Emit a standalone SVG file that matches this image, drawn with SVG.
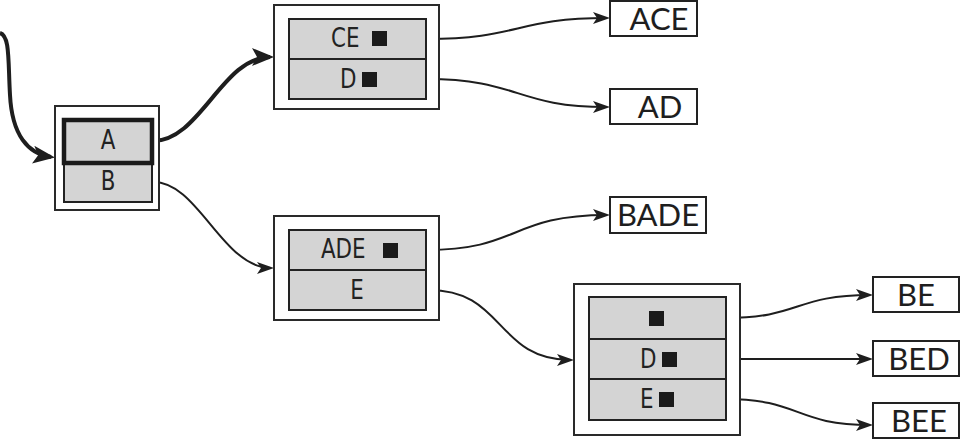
<svg xmlns="http://www.w3.org/2000/svg" width="961" height="439" viewBox="0 0 961 439">
  <style>
    .outer { fill: #ffffff; stroke: #2a2a2a; stroke-width: 2; }
    .cell { fill: #d4d4d4; stroke: #222222; stroke-width: 2; }
    .cell-bold { fill: #d4d4d4; stroke: #1a1a1a; stroke-width: 4.5; }
    .leaf { fill: #ffffff; stroke: #222222; stroke-width: 2; }
    .ct { font-family: "DejaVu Sans", sans-serif; font-stretch: condensed; font-size: 27px; fill: #222222; }
    .lt { font-family: "Lato", "DejaVu Sans", sans-serif; font-weight: 400; font-size: 31px; fill: #1e1e1e; text-anchor: middle; }
    .mark { fill: #1a1a1a; }
    .edge { fill: none; stroke: #1e1e1e; stroke-width: 2; }
    .edge-bold { fill: none; stroke: #1e1e1e; stroke-width: 4; }
  </style>
  <defs>
    <marker id="arrow" markerUnits="userSpaceOnUse" viewBox="0 -6 17 12" markerWidth="17" markerHeight="12" refX="14" refY="0" orient="auto">
      <path d="M0,-6 L17,0 L0,6 L4,0 z" fill="#1e1e1e"/>
    </marker>
    <marker id="arrow-bold" markerUnits="userSpaceOnUse" viewBox="0 -9 22 18" markerWidth="22" markerHeight="18" refX="18" refY="0" orient="auto">
      <path d="M0,-9 L22,0 L0,9 L5,0 z" fill="#1e1e1e"/>
    </marker>
  </defs>

  <!-- connectors -->
  <g id="connectors">
    <path class="edge-bold" d="M0,33 C10,36 8,60 10,95 C12,135 28,154 51,157" marker-end="url(#arrow-bold)"/>
    <path class="edge-bold" d="M152,141 C200,142 222,57 270,57" marker-end="url(#arrow-bold)"/>
    <path class="edge" d="M152,182 C198,180 222,268 271,268" marker-end="url(#arrow)"/>
    <path class="edge" d="M426,39 C520,39 515,18 607,18" marker-end="url(#arrow)"/>
    <path class="edge" d="M426,79 C520,79 515,107 607,107" marker-end="url(#arrow)"/>
    <path class="edge" d="M426,250 C520,250 510,215 607,215" marker-end="url(#arrow)"/>
    <path class="edge" d="M426,290 C505,288 495,360 571,360" marker-end="url(#arrow)"/>
    <path class="edge" d="M726,318 C800,318 795,295 870,295" marker-end="url(#arrow)"/>
    <path class="edge" d="M726,359 L870,359" marker-end="url(#arrow)"/>
    <path class="edge" d="M726,399 C800,399 795,425 870,425" marker-end="url(#arrow)"/>
  </g>

  <!-- root node: A / B -->
  <g id="node-ab">
    <rect class="outer" x="55" y="106" width="104" height="104"/>
    <rect class="cell" x="64" y="163" width="88" height="39"/>
    <rect class="cell-bold" x="64" y="120" width="88" height="43"/>
    <text class="ct" transform="translate(108,149) scale(0.88,1)" text-anchor="middle">A</text>
    <text class="ct" transform="translate(108,190) scale(0.88,1)" text-anchor="middle">B</text>
  </g>

  <!-- node: CE / D -->
  <g id="node-ce-d">
    <rect class="outer" x="274" y="5" width="165" height="104"/>
    <rect class="cell" x="289" y="19" width="137" height="40"/>
    <rect class="cell" x="289" y="59" width="137" height="40"/>
    <text class="ct" transform="translate(331,47) scale(0.88,1)">CE</text>
    <rect class="mark" x="372" y="31" width="15" height="15"/>
    <text class="ct" transform="translate(340,88) scale(0.88,1)">D</text>
    <rect class="mark" x="362" y="72" width="15" height="15"/>
  </g>

  <!-- node: ADE / E -->
  <g id="node-ade-e">
    <rect class="outer" x="274" y="216" width="165" height="104"/>
    <rect class="cell" x="289" y="230" width="137" height="40"/>
    <rect class="cell" x="289" y="270" width="137" height="40"/>
    <text class="ct" transform="translate(321,258) scale(0.88,1)">ADE</text>
    <rect class="mark" x="383" y="243" width="15" height="15"/>
    <text class="ct" transform="translate(357,299) scale(0.88,1)" text-anchor="middle">E</text>
  </g>

  <!-- node: (end) / D / E -->
  <g id="node-end-d-e">
    <rect class="outer" x="574" y="284" width="166" height="151"/>
    <rect class="cell" x="589" y="297" width="137" height="42"/>
    <rect class="cell" x="589" y="339" width="137" height="40"/>
    <rect class="cell" x="589" y="379" width="137" height="41"/>
    <rect class="mark" x="649" y="311" width="15" height="15"/>
    <text class="ct" transform="translate(640,368) scale(0.88,1)">D</text>
    <rect class="mark" x="662" y="352" width="15" height="15"/>
    <text class="ct" transform="translate(640,408) scale(0.88,1)">E</text>
    <rect class="mark" x="659" y="392" width="15" height="15"/>
  </g>

  <!-- result words -->
  <g id="leaf-ace">
    <rect class="leaf" x="610" y="1" width="87" height="35"/>
    <text class="lt" x="659" y="30">ACE</text>
  </g>
  <g id="leaf-ad">
    <rect class="leaf" x="610" y="89" width="87" height="35"/>
    <text class="lt" x="660" y="118">AD</text>
  </g>
  <g id="leaf-bade">
    <rect class="leaf" x="610" y="197" width="96" height="36"/>
    <text class="lt" x="658" y="226">BADE</text>
  </g>
  <g id="leaf-be">
    <rect class="leaf" x="873" y="277" width="86" height="35"/>
    <text class="lt" x="916" y="306">BE</text>
  </g>
  <g id="leaf-bed">
    <rect class="leaf" x="873" y="341" width="86" height="35"/>
    <text class="lt" x="919" y="370">BED</text>
  </g>
  <g id="leaf-bee">
    <rect class="leaf" x="873" y="403" width="86" height="35"/>
    <text class="lt" x="919" y="432">BEE</text>
  </g>
</svg>
